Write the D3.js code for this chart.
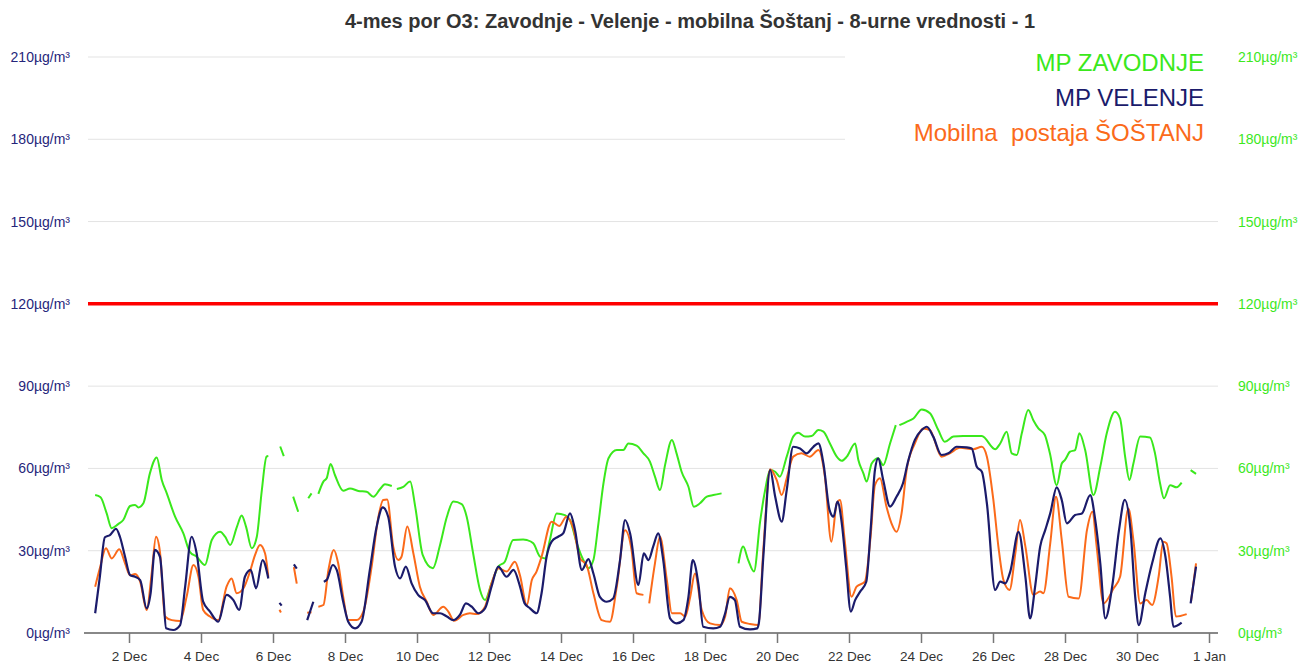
<!DOCTYPE html>
<html lang="sl">
<head>
    <meta charset="utf-8">
    <title>4-mes por O3</title>
    <script src="https://d3js.org/d3.v7.min.js"></script>
    <style>
        body {
            margin: 0;
            background: #fff;
            font-family: "Liberation Sans", Arial, sans-serif;
        }
        .grid line { stroke: #e3e3e3; stroke-width: 1px; }
        .lbl-left { fill: #25257a; font-size: 14px; }
        .lbl-right { fill: #3ce81e; font-size: 14px; }
        .xlbl { fill: #333; font-size: 13.5px; }
    </style>
</head>
<body>
<svg id="chart" width="1300" height="668"></svg>
<script>
    // values: [day of December (fractional), µg/m³], null = gap
    const zavodnje = [
        [1.06,50.3],[1.21,49.5],[1.38,43.6],[1.52,38.2],[1.7,39.7],[1.84,41.2],[2.03,46.3],[2.17,46.7],[2.26,45.8],[2.4,47.3],
        [2.58,58.2],[2.77,64],[2.91,55.8],[3.05,50.9],[3.28,42.4],[3.51,36.3],[3.69,29.6],[3.88,27.8],[4.11,24.8],[4.3,33.9],
        [4.53,36.9],[4.67,35.1],[4.81,32.1],[5.0,38.8],[5.13,42.8],[5.25,38.8],[5.41,30.9],[5.55,35.1],[5.69,52.1],[5.82,64.3],[5.87,64.5],
        [5.9,null],[6.2,68],[6.3,64.5],[6.4,null],[6.56,49.7],[6.7,44.2],[6.8,null],[6.98,49.1],[7.07,50.9],[7.15,null],
        [7.26,50.7],[7.4,55.2],[7.49,56.4],[7.6,61.6],[7.72,57.6],[7.95,51.9],[8.14,52.7],[8.37,51.8],[8.6,51.5],[8.79,49.7],
        [8.97,52.4],[9.11,54.2],[9.3,53.6],[9.35,null],[9.44,52.5],[9.62,53.3],[9.81,55.2],[9.95,46.1],[10.16,28.4],[10.44,23.6],
        [10.64,32.1],[10.83,42.4],[11.01,47.9],[11.24,47],[11.38,42.4],[11.56,29],[11.75,15.7],[11.89,12],[12.07,18.1],[12.26,24.2],
        [12.44,26],[12.67,33.9],[12.95,34.1],[13.05,33.9],[13.23,32.7],[13.42,27.8],[13.56,27.2],[13.69,33.9],[13.88,43.6],[14.11,43],
        [14.25,41.2],[14.44,32.7],[14.62,26.6],[14.76,23.6],[14.9,26.6],[15.04,40],[15.18,54.6],[15.32,63.7],[15.55,66.7],[15.73,66.7],
        [15.87,69.1],[16.1,68.3],[16.29,65.5],[16.47,62.5],[16.61,57],[16.75,52.1],[16.89,61.2],[17.08,70.4],[17.21,65.5],[17.35,58.8],
        [17.54,53.3],[17.69,46],[17.86,47.3],[18.05,49.7],[18.23,50.3],[18.46,50.9],[18.6,null],
        [18.93,25.4],[19.06,31.5],[19.2,26.6],[19.36,22.4],[19.53,40.5],[19.67,52.1],[19.81,59.4],[19.95,58.8],[20.08,57],[20.27,64.3],
        [20.45,71.6],[20.59,73],[20.78,71.6],[20.96,71.8],[21.15,74],[21.29,73.4],[21.47,69.1],[21.66,64.3],[21.8,62.8],[21.94,64.3],
        [22.17,69.1],[22.26,63.1],[22.4,58.2],[22.49,55.2],[22.63,61.8],[22.81,63.7],[22.95,61.2],[23.14,69.1],[23.3,75.8],[23.35,null],
        [23.4,75.8],[23.6,77],[23.79,78.2],[24.02,81.5],[24.25,80.1],[24.48,74],[24.66,69.7],[24.9,71.6],[25.17,71.8],[25.45,71.8],
        [25.69,71.8],[26.06,67],[26.2,69.1],[26.38,73.4],[26.52,65.5],[26.66,64.9],[26.8,72.8],[26.98,81.3],[27.12,77.6],[27.26,74.6],
        [27.44,72.2],[27.58,65.5],[27.77,53.9],[27.91,61.8],[28.0,63.1],[28.14,66.1],[28.28,66.7],[28.4,72.8],[28.56,66.7],[28.79,50.3],
        [28.98,60.6],[29.16,72.8],[29.39,80.7],[29.53,78.2],[29.67,64.3],[29.79,55.8],[29.9,61.8],[30.09,71.6],[30.36,71.3],[30.5,65.5],
        [30.64,54.6],[30.75,49.1],[30.92,53.9],[31.1,53.1],[31.24,54.8],[31.3,null],[31.49,59.4],[31.64,58]
    ];
    const velenje = [
        [1.06,7.2],[1.19,20.5],[1.33,34.9],[1.47,35.7],[1.64,38],[1.75,35],[1.89,27.8],[2.03,21.1],[2.17,20.5],[2.31,19.3],
        [2.49,9],[2.6,14.5],[2.72,30.3],[2.86,27.8],[2.95,14.5],[3.03,1.7],[3.23,1.1],[3.42,2.9],[3.56,16.9],[3.74,35.1],
        [3.88,29],[4.06,11.4],[4.25,7.8],[4.48,4.1],[4.71,13.9],[4.9,12],[5.06,8.4],[5.22,20.5],[5.38,23],[5.53,16.3],[5.71,26.6],[5.87,19.9],
        [5.9,null],[6.18,11],[6.24,10],[6.3,null],[6.58,25],[6.66,23.5],[6.8,null],[6.95,4.7],[7.12,11.4],[7.2,null],
        [7.41,18.7],[7.5,19.5],[7.66,24.8],[7.77,23],[7.95,11.4],[8.09,4.1],[8.28,1.7],[8.46,4.1],[8.69,23],[8.88,38.8],
        [9.05,45.8],[9.2,42.4],[9.39,24.2],[9.53,19.9],[9.69,24.2],[9.85,18.1],[10.03,13.9],[10.22,12],[10.45,7.2],[10.64,7.2],
        [10.83,6],[11.01,4.7],[11.19,6.6],[11.36,10.8],[11.52,9.6],[11.7,7.2],[11.89,9],[12.07,16.9],[12.26,24.2],[12.49,20.5],
        [12.68,23],[12.86,17],[12.99,10.8],[13.14,9],[13.32,7.2],[13.46,14.5],[13.6,27.8],[13.74,33.3],[13.92,35.1],[14.06,36.3],
        [14.25,43.6],[14.39,37.5],[14.58,23],[14.76,26.9],[14.9,21.7],[15.08,13.2],[15.27,11.4],[15.45,12.6],[15.64,26.6],[15.78,41.2],
        [15.92,36.3],[16.15,17.5],[16.3,29],[16.43,26.6],[16.56,31.5],[16.7,36.3],[16.84,26.6],[17.03,5.3],[17.21,3.5],[17.4,4.7],
        [17.54,13.2],[17.66,26.6],[17.82,17.5],[17.95,2.3],[18.23,1.7],[18.42,2.3],[18.56,7.2],[18.69,13.2],[18.83,12],[18.97,2.3],
        [19.25,1.3],[19.45,1.7],[19.5,4],[19.62,27.8],[19.81,59.4],[19.95,49.7],[20.13,40.6],[20.27,52.1],[20.45,67.9],[20.64,67.3],
        [20.82,65.5],[21.01,67.9],[21.15,69.1],[21.29,61.8],[21.46,44.8],[21.57,42.4],[21.68,47.9],[21.8,40],[21.92,24.2],[22.05,7.8],
        [22.17,12],[22.31,15.1],[22.48,18.7],[22.6,37.5],[22.72,59.4],[22.81,63.7],[22.95,55.8],[23.14,46.1],[23.32,49.7],[23.5,54.6],
        [23.64,62.5],[23.83,70.4],[24.02,74],[24.16,75.2],[24.34,71.6],[24.57,64.9],[24.76,65.5],[24.99,67.9],[25.27,67.7],[25.41,67.3],
        [25.55,60.6],[25.69,58.8],[25.83,47.3],[26.06,15.7],[26.2,18.7],[26.34,18.1],[26.48,22.4],[26.71,36.9],[26.9,20.5],[27.03,5.3],
        [27.17,16.9],[27.31,31.5],[27.45,37.5],[27.59,43.6],[27.77,53.1],[27.91,48.5],[28.05,40],[28.28,43],[28.47,43.6],[28.7,50.3],
        [28.84,41.2],[28.98,25.4],[29.12,5.3],[29.31,16.9],[29.5,37.5],[29.66,48.5],[29.82,37.5],[29.95,13.2],[30.05,2.9],[30.23,14.5],
        [30.42,25.4],[30.65,34.5],[30.79,27.8],[30.92,13.2],[31.01,2.3],[31.24,3.8],[31.3,null],[31.49,10.8],[31.64,24.2]
    ];
    const sostanj = [
        [1.06,16.9],[1.19,23.6],[1.36,30.9],[1.52,27.2],[1.73,30.5],[1.89,25.4],[2.03,21.1],[2.17,21.5],[2.31,18.7],[2.49,8.4],
        [2.63,21.7],[2.75,35.1],[2.86,29.6],[3.0,6],[3.19,4.7],[3.42,4.4],[3.6,13.2],[3.79,24.8],[3.93,20.5],[4.06,8.4],
        [4.25,6],[4.48,4.7],[4.71,16.9],[4.85,19.9],[4.99,14.5],[5.18,16.3],[5.36,22.4],[5.5,28.4],[5.64,32.1],[5.78,29],[5.87,20.5],
        [5.9,null],[6.18,8.5],[6.22,7.5],[6.3,null],[6.58,24],[6.66,18],[6.8,null],[6.95,7.4],[7.07,7.6],[7.15,null],
        [7.26,9.6],[7.4,10.2],[7.54,23],[7.69,30.3],[7.81,25.4],[7.95,13.2],[8.09,4.7],[8.32,4.7],[8.51,7.8],[8.74,24.2],
        [8.92,41.8],[9.06,48.5],[9.17,48.7],[9.34,31.5],[9.48,26.6],[9.57,27.8],[9.73,38.8],[9.9,29],[10.08,16.9],[10.27,11.4],
        [10.45,6.6],[10.73,9.6],[10.87,7.8],[11.03,4.5],[11.29,6.6],[11.47,7.2],[11.66,6.9],[11.89,9.6],[12.07,18.1],[12.26,23.6],
        [12.49,22.4],[12.72,26],[12.86,21],[13.05,10.2],[13.19,19.3],[13.32,22.4],[13.46,27.8],[13.74,40.6],[13.95,39],[14.15,42.4],
        [14.34,38.2],[14.53,27.2],[14.71,24.8],[14.9,14.5],[15.13,4.7],[15.36,4.1],[15.55,16.9],[15.78,37.5],[15.96,30.3],[16.1,14.5],
        [16.29,13.9],[16.35,null],[16.45,10.8],[16.61,25.4],[16.75,35.1],[16.94,19.3],[17.08,7.2],[17.31,7.2],[17.45,6],[17.59,13.2],
        [17.72,21.7],[17.91,8.4],[18.14,3.5],[18.42,2.9],[18.56,6],[18.69,16.3],[18.88,12],[19.02,4.1],[19.25,3.3],[19.48,2.9],
        [19.62,30.3],[19.81,59.7],[19.99,55.8],[20.13,50.3],[20.27,56.4],[20.45,64.3],[20.68,65.5],[20.91,64.3],[21.15,66.7],[21.33,57],
        [21.51,33.3],[21.66,47.3],[21.75,48.5],[21.88,33.9],[22.07,13.2],[22.21,16.9],[22.44,18.7],[22.6,35.1],[22.72,53.9],[22.86,56.4],
        [23.04,46.1],[23.18,40],[23.32,36.9],[23.46,43.6],[23.6,59.4],[23.83,69.1],[24.06,74.6],[24.25,74],[24.57,64.3],[24.8,65.5],
        [25.08,67.5],[25.45,67],[25.69,67.9],[25.83,64.3],[26.01,48.5],[26.15,31.5],[26.29,19.3],[26.46,15.7],[26.62,29],[26.75,41.2],
        [26.9,31.5],[27.12,13.9],[27.31,15.1],[27.4,14.5],[27.59,32.7],[27.75,49.7],[27.91,33.9],[28.1,13.2],[28.38,12.6],[28.61,37.5],
        [28.76,44.2],[28.88,31.5],[29.07,10.8],[29.35,16.3],[29.53,20.5],[29.76,45.4],[29.9,33.9],[30.09,10.8],[30.27,12],[30.42,10.2],
        [30.6,20.5],[30.73,33.3],[30.82,32.7],[30.96,20.5],[31.08,6],[31.38,6.9],[31.42,null],[31.5,11.4],[31.64,25.4]
    ];

    const yTicks = [0, 30, 60, 90, 120, 150, 180, 210];
    const xTickDays = [2, 4, 6, 8, 10, 12, 14, 16, 18, 20, 22, 24, 26, 28, 30, 32];
    const limitValue = 120;
    const title = "4-mes por O3: Zavodnje - Velenje - mobilna Šoštanj - 8-urne vrednosti - 1";
    const seriesNames = ["MP ZAVODNJE", "MP VELENJE", "Mobilna  postaja ŠOŠTANJ"];
    const seriesColors = ["#3ae81c", "#1b1b6b", "#fb6a1a"];

    const dec1 = new Date(2023, 11, 1).getTime();
    const toDate = d => new Date(dec1 + (d - 1) * 864e5);

    const svg = d3.select("#chart");
    const x = d3.scaleTime()
        .domain([toDate(0.75), toDate(32.25)])
        .range([84, 1218]);
    const y = d3.scaleLinear()
        .domain([0, 210])
        .range([633, 57]);

    svg.append("text")
        .attr("x", 690).attr("y", 28)
        .attr("text-anchor", "middle")
        .style("font-size", "20px").style("font-weight", "bold").style("fill", "#333")
        .text(title);

    // grid
    svg.append("g").attr("class", "grid")
        .selectAll("line")
        .data(yTicks.filter(v => v > 0))
        .join("line")
        .attr("x1", 88).attr("x2", 1218)
        .attr("y1", d => y(d)).attr("y2", d => y(d));

    // legend box hides the top gridlines on the right
    svg.append("rect")
        .attr("x", 845).attr("y", 40).attr("width", 380).attr("height", 112)
        .attr("fill", "#fff");

    const legend = svg.append("g");
    seriesNames.forEach((name, i) => {
        legend.append("text")
            .attr("x", 1204).attr("y", 71 + i * 35)
            .attr("text-anchor", "end")
            .style("font-size", "24px")
            .style("white-space", "pre")
            .style("fill", seriesColors[i])
            .text(name);
    });

    // left and right axis labels
    const fmtY = v => v + "µg/m³";
    svg.append("g").selectAll("text")
        .data(yTicks).join("text")
        .attr("class", "lbl-left")
        .attr("x", 70).attr("y", d => y(d) + 5)
        .attr("text-anchor", "end")
        .text(fmtY);
    svg.append("g").selectAll("text")
        .data(yTicks).join("text")
        .attr("class", "lbl-right")
        .attr("x", 1238).attr("y", d => y(d) + 5)
        .text(fmtY);

    // x axis
    const xAxis = d3.axisBottom(x)
        .tickValues(xTickDays.map(toDate))
        .tickFormat(d3.timeFormat("%-d %b"))
        .tickSize(10)
        .tickPadding(8);
    const gx = svg.append("g")
        .attr("transform", "translate(0,633)")
        .call(xAxis);
    gx.select(".domain").attr("stroke", "#888").attr("stroke-width", 2)
        .attr("d", "M84,0H1218");
    gx.selectAll(".tick line").attr("stroke", "#777").attr("stroke-width", 1.5);
    gx.selectAll(".tick text").attr("class", "xlbl").attr("fill", null)
        .style("font-family", "'Liberation Sans', Arial, sans-serif");

    // limit line
    svg.append("line")
        .attr("x1", 88).attr("x2", 1218)
        .attr("y1", y(limitValue)).attr("y2", y(limitValue))
        .attr("stroke", "#ff0000").attr("stroke-width", 3.5);

    const line = d3.line()
        .defined(d => d[1] != null)
        .x(d => x(toDate(d[0])))
        .y(d => y(d[1]))
        .curve(d3.curveMonotoneX);

    [zavodnje, sostanj, velenje].forEach((data, i) => {
        const color = [seriesColors[0], seriesColors[2], seriesColors[1]][i];
        svg.append("path")
            .datum(data)
            .attr("fill", "none")
            .attr("stroke", color)
            .attr("stroke-width", i === 2 ? 2.2 : 2)
            .attr("stroke-linejoin", "round")
            .attr("d", line);
    });
</script>
</body>
</html>
